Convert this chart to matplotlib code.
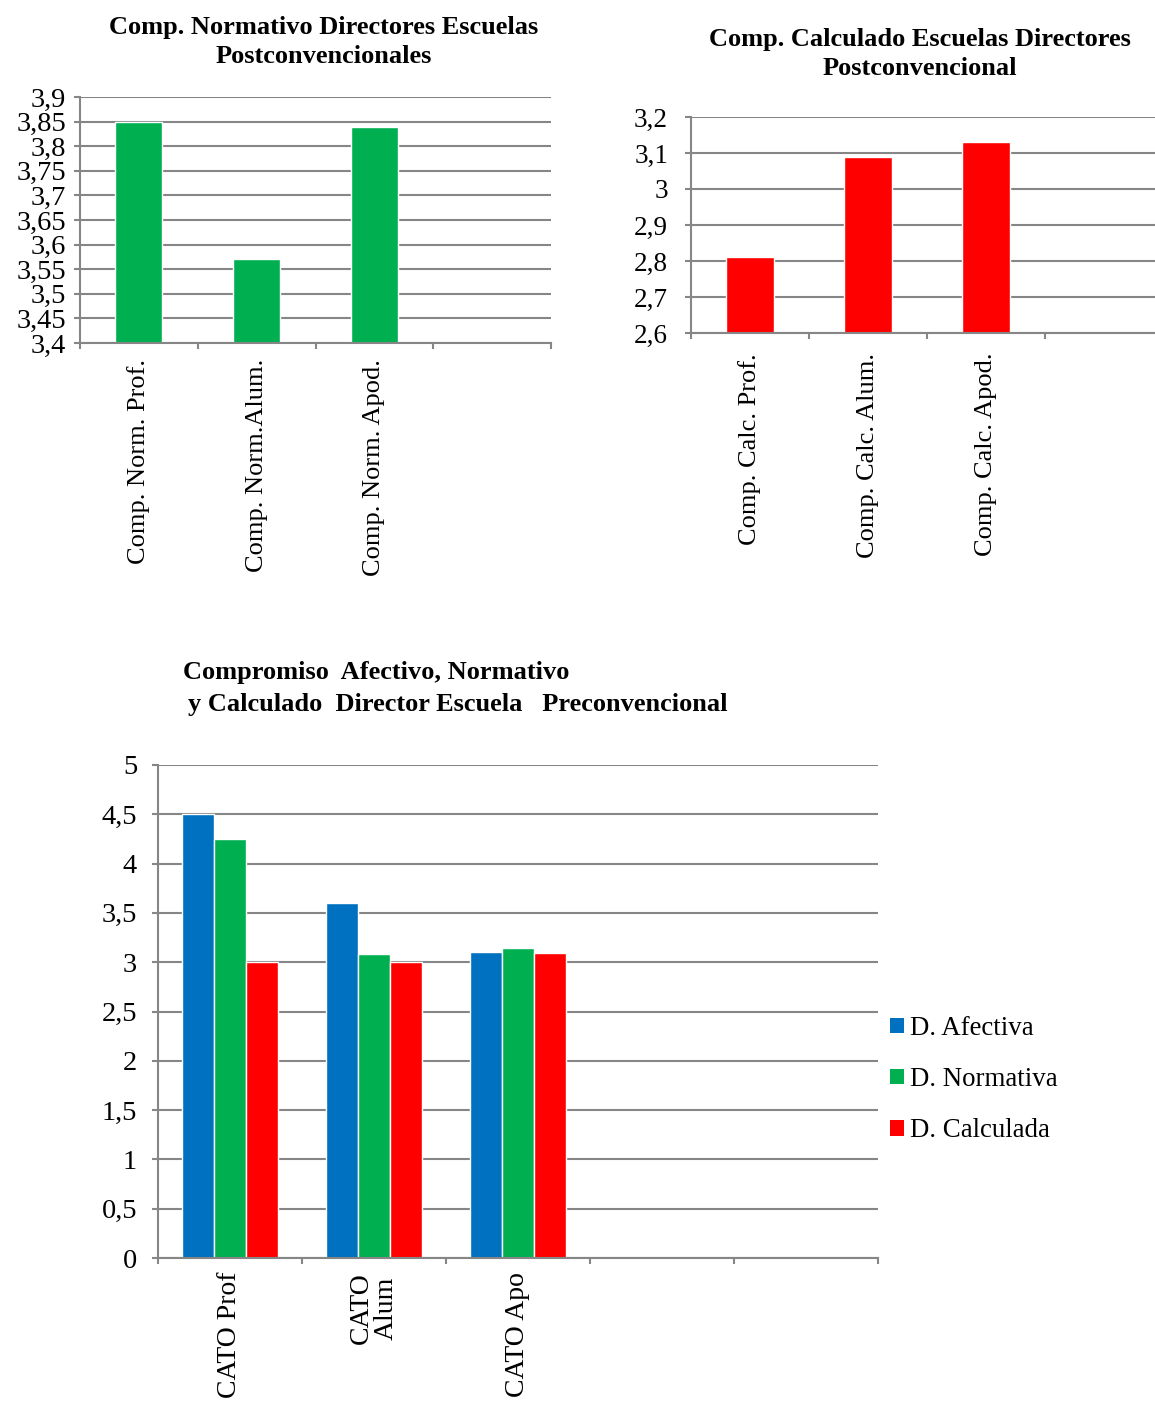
import numpy as np
import matplotlib
matplotlib.use("Agg")
import matplotlib.pyplot as plt
from matplotlib.ticker import FixedLocator, FuncFormatter

plt.rcParams['font.family'] = ['Liberation Serif', 'DejaVu Serif']

# --- data ---
norm_categories = ["Comp. Norm. Prof.", "Comp. Norm.Alum.", "Comp. Norm. Apod."]
norm_values = [3.85, 3.57, 3.84]
norm_ticks = [3.4, 3.45, 3.5, 3.55, 3.6, 3.65, 3.7, 3.75, 3.8, 3.85, 3.9]

calc_categories = ["Comp. Calc. Prof.", "Comp. Calc. Alum.", "Comp. Calc. Apod."]
calc_values = [2.81, 3.09, 3.13]
calc_ticks = [2.6, 2.7, 2.8, 2.9, 3.0, 3.1, 3.2]

group_categories = ["CATO Prof", "CATO\nAlum", "CATO Apo"]
series_names = ["D. Afectiva", "D. Normativa", "D. Calculada"]
afectiva = [4.5, 3.6, 3.1]
normativa = [4.25, 3.08, 3.14]
calculada = [3.0, 3.0, 3.09]
group_ticks = [0, 0.5, 1, 1.5, 2, 2.5, 3, 3.5, 4, 4.5, 5]

GREEN = "#00B050"
RED = "#FF0000"
BLUE = "#0070C0"
GRID = "#868686"

W, H = 1155, 1401
fig = plt.figure(figsize=(W / 100, H / 100), dpi=100)


def px_axes(left, top, right, bottom):
    return fig.add_axes([left / W, 1 - bottom / H, (right - left) / W, (bottom - top) / H])


def fmt(v, _):
    return ("%g" % v).replace(".", ",")


def style(ax, ticks, nslots, xmax=None, label_size=20, pad=8):
    ax.set_ylim(ticks[0], ticks[-1])
    ax.yaxis.set_major_locator(FixedLocator(ticks))
    ax.yaxis.set_major_formatter(FuncFormatter(fmt))
    ax.set_xlim(-0.5, nslots - 0.5 if xmax is None else xmax)
    ax.xaxis.set_major_locator(FixedLocator(np.arange(nslots + 1) - 0.5))
    ax.set_xticklabels([])
    ax.grid(axis='y', color=GRID, linewidth=1.5)
    ax.set_axisbelow(True)
    for s in ("top", "right"):
        ax.spines[s].set_visible(False)
    for s in ("left", "bottom"):
        ax.spines[s].set_color(GRID)
        ax.spines[s].set_linewidth(1.5)
    ax.tick_params(axis='both', direction='out', color=GRID, width=1.5, length=4)
    ax.tick_params(axis='y', labelsize=label_size, pad=pad)


def cat_labels(ax, labels, size=19, pad_px=16):
    for i, lab in enumerate(labels):
        ax.annotate(lab, xy=(i, 0), xycoords=('data', 'axes fraction'),
                    xytext=(0, -pad_px), textcoords='offset pixels',
                    rotation=90, ha='center', va='top', fontsize=size,
                    multialignment='center', linespacing=1.0)


# --- top-left: normative commitment ---
ax1 = px_axes(80, 97, 551, 343)
x = np.arange(len(norm_values))
ax1.bar(x, np.array(norm_values) - norm_ticks[0], bottom=norm_ticks[0],
        width=0.4, color=GREEN, edgecolor='white', linewidth=1)
style(ax1, norm_ticks, 4, label_size=20.5, pad=6)
cat_labels(ax1, norm_categories, size=19, pad_px=16)
fig.text(324 / W, 1 - 42 / H, "Comp. Normativo Directores Escuelas\nPostconvencionales",
         ha='center', va='center', fontsize=19, fontweight='bold', linespacing=1.33)

# --- top-right: calculated commitment ---
ax2 = px_axes(691, 117, 1155, 333)
ax2.bar(x, np.array(calc_values) - calc_ticks[0], bottom=calc_ticks[0],
        width=0.4, color=RED, edgecolor='white', linewidth=1)
style(ax2, calc_ticks, 4, xmax=(1155 - 691) / 118 - 0.5, label_size=19.5, pad=12.5)
cat_labels(ax2, calc_categories, size=19, pad_px=20)
fig.text(920 / W, 1 - 54 / H, "Comp. Calculado Escuelas Directores\nPostconvencional",
         ha='center', va='center', fontsize=19, fontweight='bold', linespacing=1.33)

# --- bottom: grouped dimensions ---
ax3 = px_axes(158, 765, 878, 1258)
bw = 0.222
for k, (vals, col, name) in enumerate(zip([afectiva, normativa, calculada],
                                          [BLUE, GREEN, RED], series_names)):
    ax3.bar(x + (k - 1) * bw, vals, width=bw, color=col, edgecolor='white',
            linewidth=1, label=name)
style(ax3, group_ticks, 5, label_size=20.5, pad=11)
cat_labels(ax3, group_categories, size=20, pad_px=14)
fig.text(183 / W, 1 - 673 / H, "Compromiso  Afectivo, Normativo",
         ha='left', va='center', fontsize=19, fontweight='bold')
fig.text(188 / W, 1 - 704 / H, "y Calculado  Director Escuela   Preconvencional",
         ha='left', va='center', fontsize=19, fontweight='bold')

leg = fig.legend(loc='upper left', bbox_to_anchor=(890 / W, 1 - 1016 / H),
                 frameon=False, fontsize=19.4, handlelength=0.52, handleheight=0.52,
                 handletextpad=0.22, labelspacing=0.97, borderaxespad=0, borderpad=0)
for h in leg.legend_handles:
    h.set_edgecolor('none')

fig.savefig("out.png", dpi=100)
